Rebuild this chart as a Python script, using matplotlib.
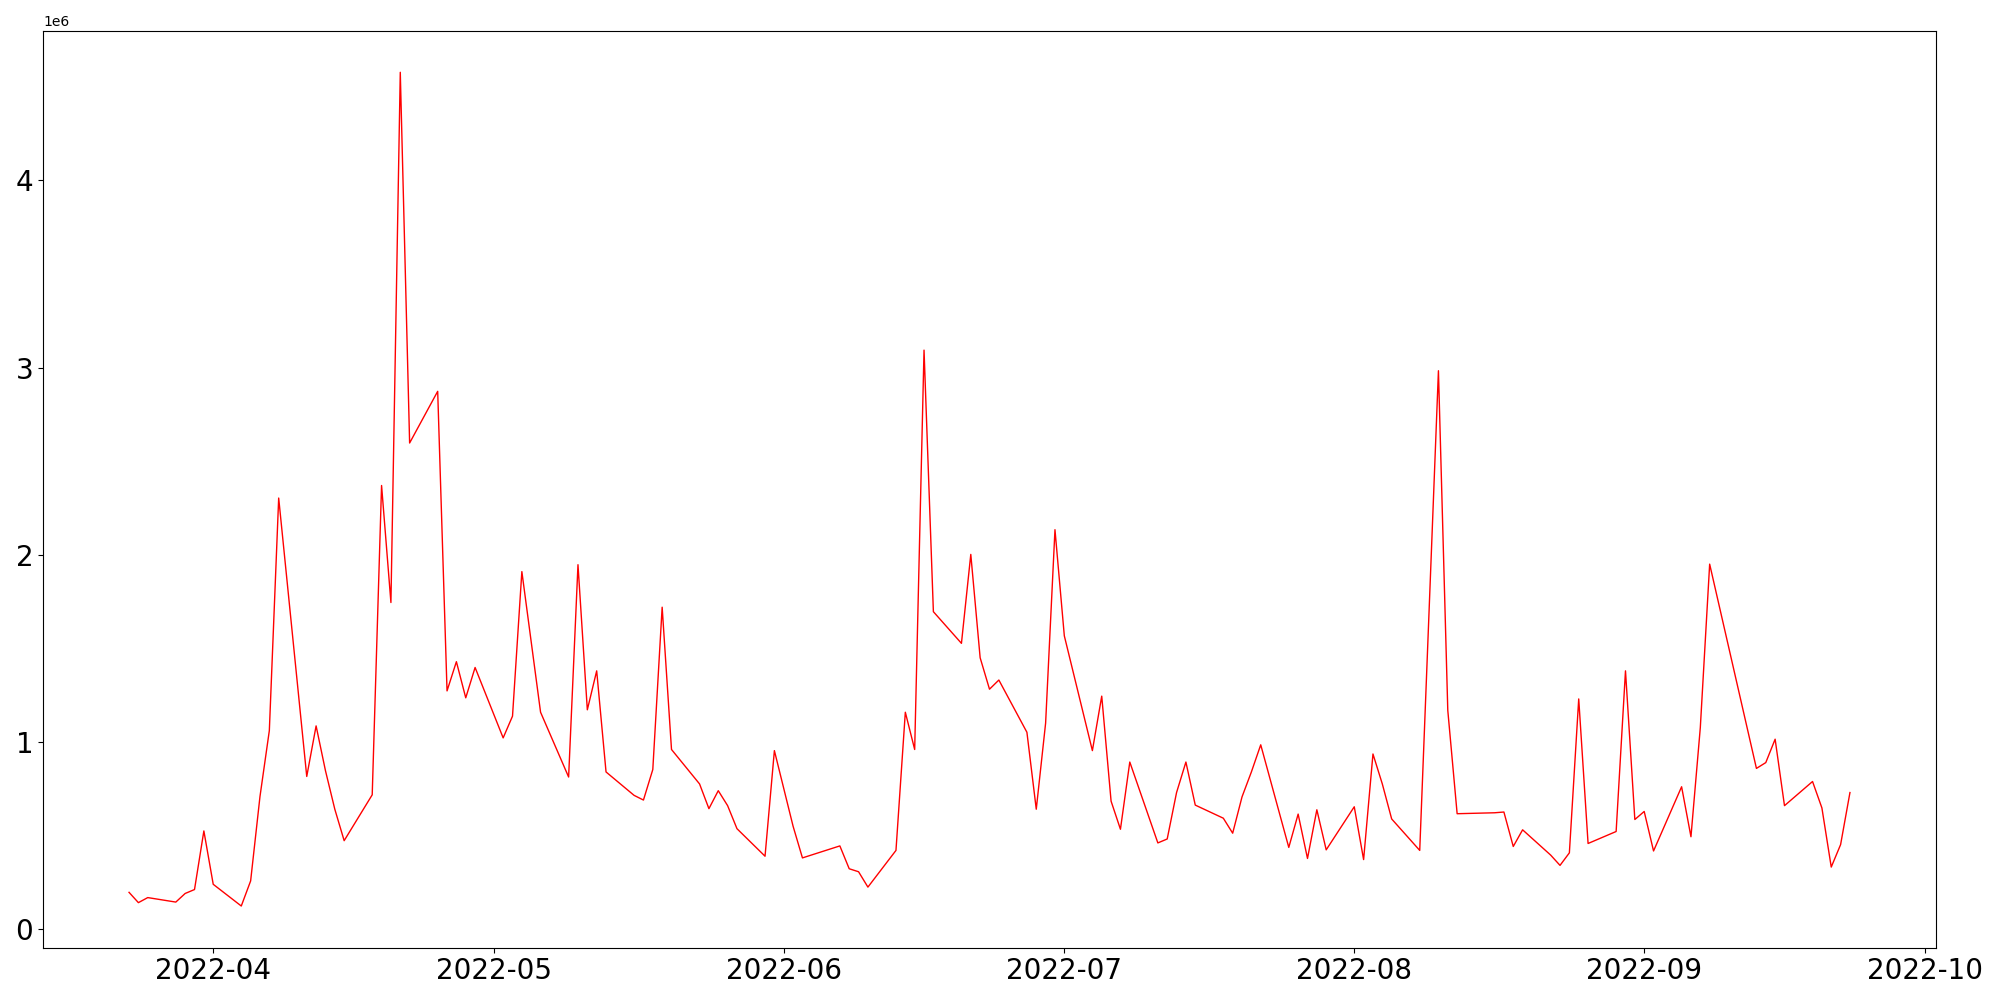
import pandas as pd
import numpy as np
import matplotlib
matplotlib.use('Agg')
import matplotlib.pyplot as plt

# fechas (días hábiles) y volumen en millones
fechas = [
    '2022-03-23', '2022-03-24', '2022-03-25', '2022-03-28', '2022-03-29', '2022-03-30', '2022-03-31',
    '2022-04-01', '2022-04-04', '2022-04-05', '2022-04-06', '2022-04-07', '2022-04-08', '2022-04-11',
    '2022-04-12', '2022-04-13', '2022-04-14', '2022-04-15', '2022-04-18', '2022-04-19', '2022-04-20',
    '2022-04-21', '2022-04-22', '2022-04-25', '2022-04-26', '2022-04-27', '2022-04-28', '2022-04-29',
    '2022-05-02', '2022-05-03', '2022-05-04', '2022-05-06', '2022-05-09', '2022-05-10', '2022-05-11',
    '2022-05-12', '2022-05-13', '2022-05-16', '2022-05-17', '2022-05-18', '2022-05-19', '2022-05-20',
    '2022-05-23', '2022-05-24', '2022-05-25', '2022-05-26', '2022-05-27', '2022-05-30', '2022-05-31',
    '2022-06-02', '2022-06-03', '2022-06-07', '2022-06-08', '2022-06-09', '2022-06-10', '2022-06-13',
    '2022-06-14', '2022-06-15', '2022-06-16', '2022-06-17', '2022-06-20', '2022-06-21', '2022-06-22',
    '2022-06-23', '2022-06-24', '2022-06-27', '2022-06-28', '2022-06-29', '2022-06-30', '2022-07-01',
    '2022-07-04', '2022-07-05', '2022-07-06', '2022-07-07', '2022-07-08', '2022-07-11', '2022-07-12',
    '2022-07-13', '2022-07-14', '2022-07-15', '2022-07-18', '2022-07-19', '2022-07-20', '2022-07-21',
    '2022-07-22', '2022-07-25', '2022-07-26', '2022-07-27', '2022-07-28', '2022-07-29', '2022-08-01',
    '2022-08-02', '2022-08-03', '2022-08-04', '2022-08-05', '2022-08-08', '2022-08-09', '2022-08-10',
    '2022-08-11', '2022-08-12', '2022-08-16', '2022-08-17', '2022-08-18', '2022-08-19', '2022-08-22',
    '2022-08-23', '2022-08-24', '2022-08-25', '2022-08-26', '2022-08-29', '2022-08-30', '2022-08-31',
    '2022-09-01', '2022-09-02', '2022-09-05', '2022-09-06', '2022-09-07', '2022-09-08', '2022-09-13',
    '2022-09-14', '2022-09-15', '2022-09-16', '2022-09-19', '2022-09-20', '2022-09-21', '2022-09-22',
    '2022-09-23',
]

volumen_m = [
    0.197, 0.142, 0.169, 0.145, 0.191, 0.212, 0.525,
    0.240, 0.124, 0.258, 0.709, 1.061, 2.303, 0.816,
    1.086, 0.847, 0.641, 0.473, 0.718, 2.370, 1.745,
    4.577, 2.597, 2.873, 1.273, 1.429, 1.236, 1.398,
    1.022, 1.138, 1.910, 1.159, 0.813, 1.947, 1.172,
    1.380, 0.840, 0.715, 0.690, 0.853, 1.720, 0.960,
    0.776, 0.644, 0.740, 0.660, 0.537, 0.390, 0.954,
    0.550, 0.381, 0.445, 0.323, 0.307, 0.225, 0.421,
    1.159, 0.960, 3.093, 1.696, 1.527, 2.002, 1.450,
    1.282, 1.331, 1.052, 0.641, 1.101, 2.134, 1.567,
    0.954, 1.245, 0.684, 0.534, 0.893, 0.461, 0.482,
    0.730, 0.893, 0.663, 0.593, 0.513, 0.707, 0.840,
    0.985, 0.437, 0.615, 0.378, 0.638, 0.424, 0.654,
    0.372, 0.936, 0.776, 0.589, 0.421, 1.700, 2.983,
    1.169, 0.617, 0.622, 0.626, 0.442, 0.531, 0.396,
    0.341, 0.408, 1.230, 0.458, 0.522, 1.380, 0.586,
    0.629, 0.418, 0.761, 0.494, 1.077, 1.950, 0.859,
    0.890, 1.015, 0.660, 0.789, 0.648, 0.332, 0.452,
    0.730,
]

x = pd.to_datetime(fechas)
y = np.array(volumen_m) * 1e6

fig = plt.figure(figsize=(20, 10), dpi=100)
plt.plot(x, y, color='red', linewidth=1)
plt.xticks(fontsize=20)
plt.yticks(fontsize=20)
plt.subplots_adjust(left=0.0215, right=0.968, top=0.9694, bottom=0.0523)
plt.savefig('out.png')
